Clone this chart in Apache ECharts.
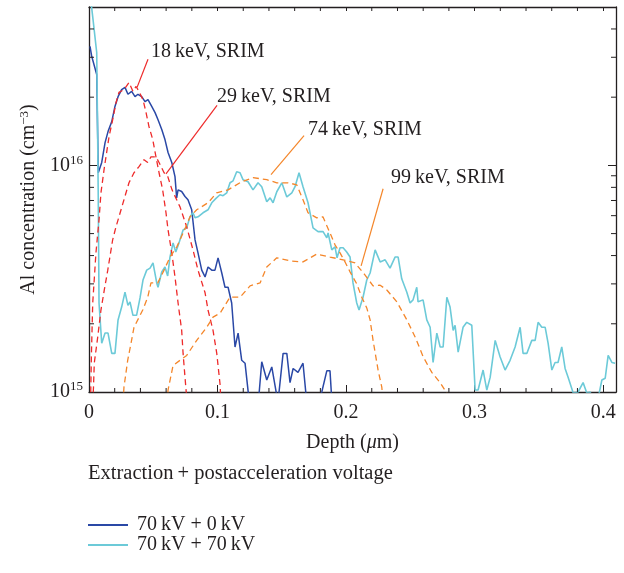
<!DOCTYPE html>
<html>
<head>
<meta charset="utf-8">
<script src="https://cdn.jsdelivr.net/npm/echarts@6/dist/echarts.min.js"></script>
<style>html,body{margin:0;padding:0;background:#fff}#c{width:624px;height:573px}</style>
</head>
<body>
<div id="c"></div>
<script>
// ---------- DATA ----------
var xTickLabels = ['0', '0.1', '0.2', '0.3', '0.4'];
var yTickExponents = [15, 16];
var xMinorTicks = [0.02,0.04,0.06,0.08,0.12,0.14,0.16,0.18,0.22,0.24,0.26,0.28,0.32,0.34,0.36,0.38];
var yMinorTicks = [2e15,3e15,4e15,5e15,6e15,7e15,8e15,9e15,2e16,3e16,4e16];
var X_MIN = 0, X_MAX = 0.41, Y_MIN = 1e15, Y_MAX = 5e16;

var legendNames = ['70\u2009kV + 0\u2009kV', '70\u2009kV + 70\u2009kV'];

// measured profile, 70 kV + 0 kV  [depth (um), concentration (cm^-3)]
var meas0kV = [[0.0008,3.35e16],[0.0021,3.03e16],[0.006,2.52e16],[0.0072,9.28e15],[0.0099,1.03e16],[0.0125,1.26e16],[0.0148,1.41e16],[0.0177,1.56e16],[0.0202,1.82e16],[0.0226,2.01e16],[0.0254,2.16e16],[0.028,2.21e16],[0.0303,2.06e16],[0.0332,2.12e16],[0.0358,2.01e16],[0.0381,2.06e16],[0.041,2.01e16],[0.0436,1.91e16],[0.0459,1.95e16],[0.0488,1.82e16],[0.0514,1.71e16],[0.0537,1.59e16],[0.0566,1.44e16],[0.0591,1.30e16],[0.0615,1.14e16],[0.0644,1.03e16],[0.0669,8.92e15],[0.0682,7.19e15],[0.0693,7.80e15],[0.0721,7.67e15],[0.0747,7.29e15],[0.077,7.05e15],[0.0799,6.37e15],[0.0825,4.69e15],[0.0848,4.11e15],[0.0877,3.45e15],[0.0903,3.22e15],[0.0926,3.56e15],[0.0955,3.45e15],[0.098,3.45e15],[0.1004,3.91e15],[0.1033,3.35e15],[0.1058,2.90e15],[0.1082,2.90e15],[0.111,2.47e15],[0.1136,1.58e15],[0.116,1.82e15],[0.1188,1.38e15],[0.1214,1.34e15],[0.1237,1.02e15],[0.127,7e14],[0.131,8e14],[0.1344,1.36e15],[0.1383,1.13e15],[0.1422,1.29e15],[0.147,9e14],[0.151,1.48e15],[0.1539,1.48e15],[0.1564,1.10e15],[0.1588,1.27e15],[0.1626,1.22e15],[0.1665,1.34e15],[0.1694,9e14],[0.175,8e14],[0.1811,1.0e15],[0.185,1.24e15],[0.1875,1.24e15],[0.189,9e14]];

// measured profile, 70 kV + 70 kV
var meas70kV = [[0.0004,6e16],[0.0031,4.42e16],[0.006,3.15e16],[0.0066,1.59e16],[0.0072,7.26e15],[0.0078,2.47e15],[0.0099,1.64e15],[0.0125,1.82e15],[0.0148,1.82e15],[0.0177,1.48e15],[0.0202,1.48e15],[0.0226,2.08e15],[0.0254,2.37e15],[0.028,2.76e15],[0.0303,2.41e15],[0.0319,2.50e15],[0.0342,2.18e15],[0.037,2.18e15],[0.0397,2.60e15],[0.042,3.12e15],[0.0449,3.45e15],[0.0475,3.52e15],[0.0498,3.71e15],[0.0527,3.03e15],[0.0537,2.90e15],[0.0566,3.39e15],[0.0591,3.56e15],[0.0612,3.25e15],[0.063,3.94e15],[0.0654,4.55e15],[0.0675,4.15e15],[0.07,4.55e15],[0.0732,5.19e15],[0.076,5.30e15],[0.0786,5.93e15],[0.0809,6.18e15],[0.0825,5.87e15],[0.0848,5.93e15],[0.0887,6.18e15],[0.0926,6.37e15],[0.0955,6.84e15],[0.0986,7.13e15],[0.1019,7.42e15],[0.1043,7.35e15],[0.1072,7.57e15],[0.1097,8.38e15],[0.1121,8.55e15],[0.1149,9.38e15],[0.1175,9.28e15],[0.1198,8.65e15],[0.1237,8.47e15],[0.1276,7.80e15],[0.1315,8.38e15],[0.1344,8.05e15],[0.1383,6.91e15],[0.1409,7.19e15],[0.1432,6.84e15],[0.1461,7.65e15],[0.15,8.38e15],[0.1539,7.26e15],[0.1578,7.57e15],[0.1603,8.05e15],[0.1634,9.28e15],[0.1665,8.05e15],[0.1704,6.84e15],[0.1743,5.30e15],[0.1782,5.10e15],[0.1821,5.10e15],[0.185,4.79e15],[0.186,5.03e15],[0.1889,4.24e15],[0.1914,4.37e15],[0.193,3.91e15],[0.1953,4.33e15],[0.1977,4.33e15],[0.2005,4.15e15],[0.2031,3.94e15],[0.2054,3.03e15],[0.2083,2.47e15],[0.2101,2.30e15],[0.2132,2.62e15],[0.2161,3.12e15],[0.2187,3.35e15],[0.2226,4.24e15],[0.2265,3.75e15],[0.2304,3.83e15],[0.2342,3.52e15],[0.2381,3.94e15],[0.2405,3.94e15],[0.2433,3.16e15],[0.2472,2.76e15],[0.2498,2.47e15],[0.2521,2.55e15],[0.255,2.90e15],[0.256,2.50e15],[0.2599,2.55e15],[0.2628,2.08e15],[0.2654,1.93e15],[0.2677,1.35e15],[0.2706,1.82e15],[0.2732,1.58e15],[0.2755,1.58e15],[0.2784,2.62e15],[0.2809,2.37e15],[0.2833,1.87e15],[0.2848,1.97e15],[0.2872,1.50e15],[0.291,1.93e15],[0.2939,2.03e15],[0.2978,1.97e15],[0.3004,1.02e15],[0.3027,1.02e15],[0.3066,1.25e15],[0.3095,1.02e15],[0.3121,1.16e15],[0.316,1.69e15],[0.3198,1.43e15],[0.3237,1.25e15],[0.3276,1.38e15],[0.3315,1.58e15],[0.3354,1.93e15],[0.3377,1.48e15],[0.3406,1.48e15],[0.3445,1.69e15],[0.3471,1.69e15],[0.3494,2.03e15],[0.3523,1.93e15],[0.3549,1.93e15],[0.3572,1.64e15],[0.3601,1.25e15],[0.3626,1.35e15],[0.3649,1.35e15],[0.3678,1.58e15],[0.3704,1.27e15],[0.3728,1.16e15],[0.3767,9.9e14],[0.3805,1.0e15],[0.3844,1.10e15],[0.3873,9.9e14],[0.3899,1.0e15],[0.3946,8.5e14],[0.399,1.13e15],[0.4016,1.15e15],[0.4039,1.45e15],[0.4068,1.35e15],[0.4093,1.34e15]];

// SRIM simulations
var srim18 = [[0.0012,9e14],[0.0019,1.48e15],[0.0029,2.47e15],[0.0054,4.11e15],[0.0078,5.75e15],[0.0093,7.57e15],[0.0117,9.57e15],[0.0132,1.09e16],[0.0156,1.34e16],[0.0184,1.59e16],[0.021,1.89e16],[0.0233,2.10e16],[0.0272,2.16e16],[0.0311,2.32e16],[0.0342,2.12e16],[0.0366,2.23e16],[0.0389,2.12e16],[0.042,1.95e16],[0.0444,1.71e16],[0.0467,1.48e16],[0.0496,1.30e16],[0.0521,1.09e16],[0.0545,9.28e15],[0.0573,7.80e15],[0.0599,6.18e15],[0.0615,5.19e15],[0.0644,4.11e15],[0.0669,3.22e15],[0.0693,2.47e15],[0.0721,1.87e15],[0.0732,1.48e15],[0.0747,1.16e15],[0.0763,9e14]];
var srim29 = [[0.0029,9e14],[0.0035,1.05e15],[0.0041,1.34e15],[0.0068,1.75e15],[0.0093,2.30e15],[0.0119,2.82e15],[0.0146,3.45e15],[0.0184,4.69e15],[0.021,5.36e15],[0.0233,5.93e15],[0.0272,7.05e15],[0.0311,8.38e15],[0.035,9.28e15],[0.0389,9.87e15],[0.0428,1.06e16],[0.0457,1.03e16],[0.0482,1.09e16],[0.0521,1.09e16],[0.0545,1.03e16],[0.0584,9.28e15],[0.0613,8.92e15],[0.0646,7.80e15],[0.0708,6.56e15],[0.076,5.36e15],[0.0809,4.24e15],[0.0848,3.45e15],[0.0903,2.74e15],[0.0926,2.30e15],[0.0965,1.87e15],[0.0994,1.48e15],[0.1019,1.09e15],[0.1027,9e14]];
var srim74 = [[0.0265,9e14],[0.0272,1.05e15],[0.0301,1.38e15],[0.0327,1.64e15],[0.035,1.93e15],[0.0418,2.30e15],[0.0457,2.62e15],[0.0482,3.03e15],[0.0535,3.03e15],[0.0584,3.45e15],[0.063,3.94e15],[0.0683,4.37e15],[0.0732,5.03e15],[0.0786,5.93e15],[0.0838,6.37e15],[0.0926,6.84e15],[0.0994,7.57e15],[0.1082,7.80e15],[0.1188,8.47e15],[0.1276,8.83e15],[0.1383,8.65e15],[0.1461,8.38e15],[0.1549,8.38e15],[0.1616,8.21e15],[0.1665,7.05e15],[0.1704,6.18e15],[0.1772,5.87e15],[0.182,5.93e15],[0.1875,5.03e15],[0.1914,4.46e15],[0.1953,4.11e15],[0.1992,3.75e15],[0.2031,3.39e15],[0.2083,3.00e15],[0.2122,2.62e15],[0.2161,2.35e15],[0.2187,2.08e15],[0.221,1.69e15],[0.2249,1.25e15],[0.2278,1.05e15],[0.2288,9e14]];
var srim99 = [[0.0607,9e14],[0.0615,1.02e15],[0.0654,1.31e15],[0.0708,1.38e15],[0.076,1.45e15],[0.0838,1.69e15],[0.0916,1.93e15],[0.0965,2.14e15],[0.102,2.23e15],[0.1097,2.62e15],[0.1175,2.62e15],[0.1253,2.94e15],[0.1331,3.03e15],[0.1383,3.56e15],[0.1461,3.91e15],[0.1564,3.79e15],[0.1665,3.75e15],[0.1772,4.06e15],[0.1875,3.94e15],[0.1977,3.83e15],[0.207,3.71e15],[0.2148,3.28e15],[0.221,2.94e15],[0.2265,2.96e15],[0.2317,2.82e15],[0.2395,2.50e15],[0.2473,2.08e15],[0.2537,1.75e15],[0.26,1.43e15],[0.2667,1.22e15],[0.2732,1.10e15],[0.2783,9.9e14],[0.2794,9e14]];

// annotation texts, anchors and leader lines (data coordinates)
var annoTexts = ['18\u2009keV, SRIM', '29\u2009keV, SRIM', '74\u2009keV, SRIM', '99\u2009keV, SRIM'];
var annoAnchors = [[0.0482,3.18e16],[0.0996,2.01e16],[0.1704,1.44e16],[0.235,8.82e15]];
var annoLeaders = [
  [[0.0459,2.94e16],[0.0374,2.21e16]],
  [[0.0996,1.84e16],[0.0599,9.18e15]],
  [[0.1673,1.354e16],[0.1416,9.1e15]],
  [[0.2288,7.89e15],[0.2117,3.6e15]]
];

// ---------- STYLE ----------
var FONT = '"Liberation Serif", "Times New Roman", serif';
var INK = '#231f20';
var BLUE = '#2a48a6', CYAN = '#6ccad8', RED = '#ee2b2b', ORANGE = '#f4862a';
var annoColors = [RED, RED, ORANGE, ORANGE];

var chart = echarts.init(document.getElementById('c'), null, {renderer: 'canvas'});

function yLabel(v) {
  var e = Math.round(Math.log10(v));
  return '{b|10}{s|' + e + '}';
}
var yRich = {
  b: {fontFamily: FONT, fontSize: 20, color: INK},
  s: {fontFamily: FONT, fontSize: 13, color: INK, padding: [0, 0, 10, 0]}
};

var axisLine = {show: true, onZero: false, lineStyle: {color: INK, width: 1.3}};

var series = [];
function profile(name, data, color, dashed, width) {
  return {
    name: name, type: 'line', data: data, symbol: 'none', showSymbol: false,
    lineStyle: {color: color, width: width, type: dashed ? [6, 4] : 'solid'},
    itemStyle: {color: color}, silent: true, clip: true, z: dashed ? 3 : 2
  };
}
series.push(profile(legendNames[0], meas0kV, BLUE, false, 1.5));
series.push(profile(legendNames[1], meas70kV, CYAN, false, 1.6));
series.push(profile('SRIM 18', srim18, RED, true, 1.3));
series.push(profile('SRIM 29', srim29, RED, true, 1.3));
series.push(profile('SRIM 74', srim74, ORANGE, true, 1.3));
series.push(profile('SRIM 99', srim99, ORANGE, true, 1.3));

annoLeaders.forEach(function (seg, i) {
  series.push({type: 'line', data: seg, symbol: 'none', silent: true, z: 4,
    lineStyle: {color: annoColors[i], width: 1.2}});
});
series.push({
  type: 'scatter', silent: true, symbolSize: 0, z: 5,
  itemStyle: {opacity: 1, color: INK},
  data: annoAnchors.map(function (p, i) { return {value: p, name: annoTexts[i]}; }),
  label: {show: true, position: 'right', distance: 0, formatter: '{b}',
    fontFamily: FONT, fontSize: 20, color: INK, opacity: 1}
});

// minor ticks
series.push({
  type: 'custom', silent: true, z: 6, clip: false,
  data: xMinorTicks.map(function (v) { return [v, Y_MIN]; }),
  renderItem: function (params, api) {
    var v = api.value(0);
    var b = api.coord([v, Y_MIN]), t = api.coord([v, Y_MAX]);
    var st = {stroke: INK, lineWidth: 1};
    return {type: 'group', children: [
      {type: 'line', shape: {x1: b[0], y1: b[1], x2: b[0], y2: b[1] - 4}, style: st},
      {type: 'line', shape: {x1: t[0], y1: t[1], x2: t[0], y2: t[1] + 4}, style: st}
    ]};
  }
});
series.push({
  type: 'custom', silent: true, z: 6, clip: false,
  data: yMinorTicks.map(function (v) { return [X_MIN, v]; }),
  renderItem: function (params, api) {
    var v = api.value(1);
    var l = api.coord([X_MIN, v]), r = api.coord([X_MAX, v]);
    var st = {stroke: INK, lineWidth: 1};
    return {type: 'group', children: [
      {type: 'line', shape: {x1: l[0], y1: l[1], x2: l[0] + 5, y2: l[1]}, style: st},
      {type: 'line', shape: {x1: r[0], y1: r[1], x2: r[0] - 5, y2: r[1]}, style: st}
    ]};
  }
});

var option = {
  animation: false,
  backgroundColor: '#fff',
  title: {
    text: 'Extraction\u2009+ postacceleration voltage',
    left: 83, top: 458,
    textStyle: {fontFamily: FONT, fontSize: 20.5, fontWeight: 'normal', color: INK}
  },
  legend: {
    data: legendNames.map(function (n) { return {name: n, icon: 'rect'}; }),
    orient: 'vertical', left: 83, top: 510,
    itemWidth: 40, itemHeight: 2, itemGap: 0,
    textStyle: {fontFamily: FONT, fontSize: 20, color: INK, lineHeight: 20, padding: [0, 0, 0, 4]},
    selectedMode: false
  },
  grid: {left: 89, right: 8, top: 7, bottom: 181, containLabel: false},
  xAxis: [{
    type: 'value', min: X_MIN, max: X_MAX, interval: 0.1, position: 'bottom',
    axisLine: axisLine,
    axisTick: {show: true, inside: true, length: 7, lineStyle: {color: INK, width: 1}},
    splitLine: {show: false},
    axisLabel: {
      showMaxLabel: false, margin: 11, fontFamily: FONT, fontSize: 20, color: INK,
      formatter: function (v) { var i = Math.round(v * 10); return xTickLabels[i] !== undefined ? xTickLabels[i] : ''; }
    },
    name: '{n|Depth (}{i|\u03bc}{n|m)}', nameLocation: 'middle', nameGap: 41,
    nameTextStyle: {rich: {
      n: {fontFamily: FONT, fontSize: 20, color: INK},
      i: {fontFamily: FONT, fontSize: 20, color: INK, fontStyle: 'italic'}
    }}
  }, {
    type: 'value', min: X_MIN, max: X_MAX, interval: 0.1, position: 'top',
    axisLine: axisLine,
    axisTick: {show: true, inside: true, length: 4, lineStyle: {color: INK, width: 1}},
    axisLabel: {show: false}, splitLine: {show: false}
  }],
  yAxis: [{
    type: 'log', logBase: 10, min: Y_MIN, max: Y_MAX, position: 'left',
    axisLine: axisLine,
    axisTick: {show: true, inside: true, length: 8, lineStyle: {color: INK, width: 1}},
    splitLine: {show: false},
    axisLabel: {showMaxLabel: false, margin: 6, formatter: yLabel, rich: yRich},
    name: '{n|Al concentration (cm}{s|\u22123}{n|)}', nameLocation: 'middle', nameGap: 47, nameRotate: 90,
    nameTextStyle: {rich: {
      n: {fontFamily: FONT, fontSize: 20, color: INK},
      s: {fontFamily: FONT, fontSize: 13, color: INK, padding: [0, 0, 10, 0]}
    }}
  }, {
    type: 'log', logBase: 10, min: Y_MIN, max: Y_MAX, position: 'right',
    axisLine: axisLine,
    axisTick: {show: true, inside: true, length: 8, lineStyle: {color: INK, width: 1}},
    axisLabel: {show: false}, splitLine: {show: false}
  }],
  series: series
};
chart.setOption(option);
</script>
</body>
</html>
